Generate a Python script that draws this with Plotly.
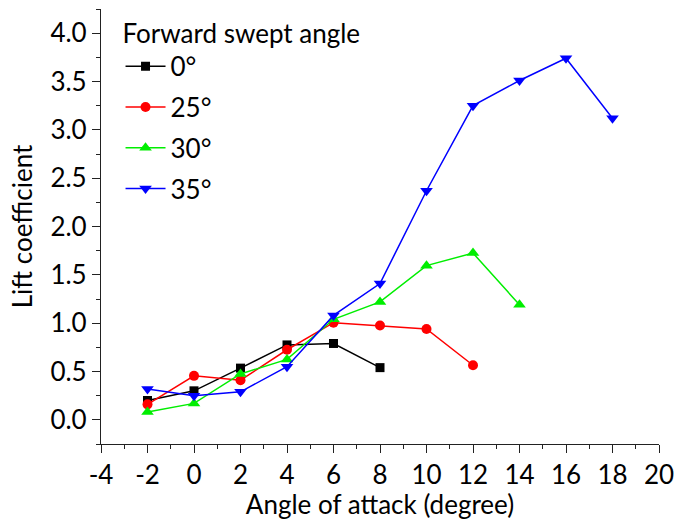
import plotly.graph_objects as go

aoa = [-2, 0, 2, 4, 6, 8, 10, 12, 14, 16, 18]
cl_0 = [0.20, 0.30, 0.535, 0.775, 0.79, 0.54]
cl_25 = [0.16, 0.455, 0.41, 0.725, 1.005, 0.975, 0.94, 0.565]
cl_30 = [0.08, 0.17, 0.475, 0.625, 1.04, 1.22, 1.595, 1.725, 1.19]
cl_35 = [0.32, 0.25, 0.29, 0.55, 1.08, 1.41, 2.37, 3.25, 3.51, 3.74, 3.12]

series = [
    ("0°", cl_0, "black", "square", 9),
    ("25°", cl_25, "#ff0000", "circle", 10),
    ("30°", cl_30, "#00ee00", "triangle-up", 11),
    ("35°", cl_35, "#0000ff", "triangle-down", 11),
]

FONT = "Lato"
FS = 26
fig = go.Figure()
for name, vals, color, sym, sz in series:
    fig.add_trace(go.Scatter(
        x=aoa[:len(vals)], y=vals, name=name, mode="lines+markers",
        legendgroup=name,
        line=dict(color=color, width=1.5),
        marker=dict(symbol=sym, size=sz, color=color),
    ))

fig.update_layout(
    width=683, height=520,
    margin=dict(l=101, r=17, t=9, b=76),
    plot_bgcolor="white", paper_bgcolor="white",
    font=dict(family=FONT, size=FS, color="black"),
    legend=dict(
        title=dict(text="Forward swept angle", font=dict(size=FS)),
        x=0.035, y=1.0, xanchor="left", yanchor="top",
        bgcolor="rgba(0,0,0,0)", font=dict(size=FS),
        tracegroupgap=4, itemwidth=40,
    ),
    showlegend=True,
)
fig.update_xaxes(
    range=[-4, 20], tickmode="array",
    tickvals=list(range(-4, 21, 2)), ticktext=[str(v) for v in range(-4, 21, 2)],
    ticks="outside", ticklen=8, tickwidth=1.2, tickcolor="#222",
    showline=True, linecolor="#222", linewidth=1.2, mirror=False,
    showgrid=False, zeroline=False,
    minor=dict(ticks="outside", ticklen=4, dtick=1, tickcolor="#222", showgrid=False),
    title=dict(text="Angle of attack (degree)", standoff=0, font=dict(size=FS)),
    tickfont=dict(size=FS),
)
fig.update_yaxes(
    range=[-0.25, 4.25], tickmode="array",
    tickvals=[0, 0.5, 1, 1.5, 2, 2.5, 3, 3.5, 4],
    ticktext=["0.0", "0.5", "1.0", "1.5", "2.0", "2.5", "3.0", "3.5", "4.0"],
    ticks="outside", ticklen=8, tickwidth=1.2, tickcolor="#222",
    showline=True, linecolor="#222", linewidth=1.2, mirror=False,
    showgrid=False, zeroline=False,
    minor=dict(ticks="outside", ticklen=4, dtick=0.25, tick0=0, tickcolor="#222", showgrid=False),
    title=dict(text="Lift coefficient", standoff=10, font=dict(size=FS)),
    tickfont=dict(size=FS),
)

fig.write_html("out.html")
